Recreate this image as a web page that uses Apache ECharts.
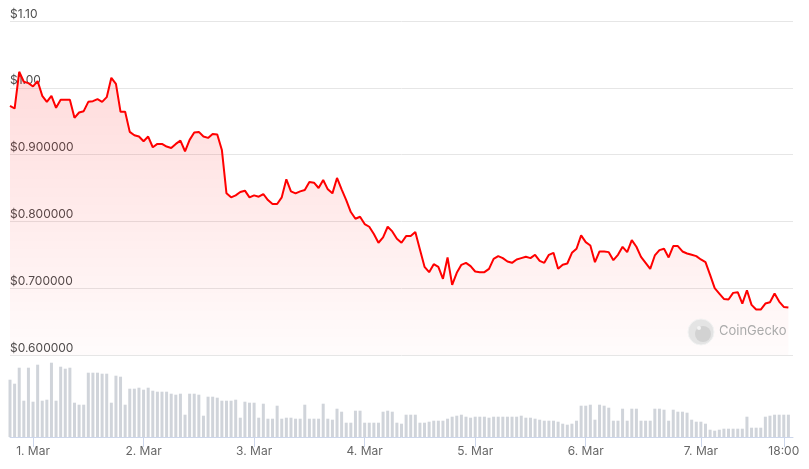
<!DOCTYPE html>
<html>
<head>
<meta charset="utf-8">
<title>Price chart</title>
<script src="https://cdn.jsdelivr.net/npm/echarts@6/dist/echarts.min.js"></script>
<style>
  html, body { margin: 0; padding: 0; background: #fff; }
  #chart { width: 809px; height: 469px; }
</style>
</head>
<body>
<div id="chart"></div>
<script>
// hourly points, hour 0 = 28 Feb 19:00
const prices = [
  0.973, 0.969, 1.024, 1.009, 1.007, 1.002, 1.010, 0.988, 0.979, 0.988,
  0.970, 0.982, 0.982, 0.982, 0.955, 0.963, 0.965, 0.979, 0.980, 0.983,
  0.979, 0.986, 1.015, 1.006, 0.964, 0.964, 0.934, 0.929, 0.927, 0.920,
  0.927, 0.911, 0.916, 0.916, 0.912, 0.910, 0.916, 0.921, 0.905, 0.922,
  0.933, 0.934, 0.927, 0.925, 0.931, 0.930, 0.907, 0.842, 0.836, 0.839,
  0.844, 0.846, 0.836, 0.839, 0.837, 0.841, 0.832, 0.826, 0.826, 0.836,
  0.863, 0.845, 0.842, 0.845, 0.847, 0.859, 0.858, 0.850, 0.862, 0.848,
  0.842, 0.865, 0.848, 0.832, 0.814, 0.804, 0.807, 0.796, 0.792, 0.781,
  0.768, 0.776, 0.792, 0.785, 0.774, 0.768, 0.778, 0.778, 0.784, 0.758,
  0.732, 0.724, 0.736, 0.732, 0.714, 0.746, 0.705, 0.723, 0.735, 0.738,
  0.733, 0.725, 0.724, 0.724, 0.729, 0.744, 0.748, 0.745, 0.740, 0.738,
  0.743, 0.745, 0.747, 0.745, 0.750, 0.741, 0.738, 0.750, 0.753, 0.729,
  0.735, 0.737, 0.753, 0.759, 0.779, 0.769, 0.764, 0.739, 0.755, 0.755,
  0.754, 0.742, 0.750, 0.762, 0.754, 0.772, 0.762, 0.747, 0.738, 0.729,
  0.749, 0.757, 0.759, 0.746, 0.763, 0.763, 0.755, 0.752, 0.750, 0.748,
  0.743, 0.739, 0.720, 0.700, 0.692, 0.684, 0.683, 0.693, 0.694, 0.677,
  0.697, 0.675, 0.668, 0.668, 0.677, 0.679, 0.692, 0.680, 0.672, 0.671
]

// volume, relative units
const volumes = [
  57.3, 53.3, 69.3, 36.3, 69.3, 35.3, 72.3, 36.3, 37.3, 74.3,
  36.3, 70.3, 68.3, 69.3, 34.3, 32.3, 32.3, 64.3, 64.3, 64.3,
  63.3, 63.3, 34.3, 61.3, 60.3, 32.3, 48.3, 48.3, 49.3, 47.3,
  49.3, 46.3, 45.3, 45.3, 45.3, 43.3, 42.3, 43.3, 22.3, 43.3,
  43.3, 42.3, 21.3, 40.3, 40.3, 39.3, 36.3, 36.3, 36.3, 37.3,
  19.3, 35.3, 34.3, 34.3, 19.3, 33.3, 18.3, 18.3, 31.3, 18.3,
  19.3, 19.3, 18.3, 18.3, 32.3, 18.3, 18.3, 18.3, 33.3, 18.3,
  17.3, 28.3, 25.3, 14.3, 14.3, 26.3, 26.3, 14.3, 14.3, 14.3,
  14.3, 25.3, 26.3, 25.3, 14.3, 13.3, 22.3, 22.3, 22.3, 14.3,
  14.3, 15.3, 16.3, 16.3, 16.3, 18.3, 20.3, 21.3, 22.3, 20.3,
  19.3, 20.3, 20.3, 20.3, 19.3, 20.3, 20.3, 20.3, 20.3, 20.3,
  20.3, 21.3, 19.3, 19.3, 18.3, 17.3, 16.3, 16.3, 16.3, 15.3,
  13.3, 12.3, 13.3, 16.3, 31.3, 31.3, 32.3, 17.3, 32.3, 31.3,
  29.3, 16.3, 16.3, 28.3, 16.3, 28.3, 28.3, 16.3, 16.3, 16.3,
  28.3, 28.3, 27.3, 16.3, 27.3, 25.3, 25.3, 24.3, 17.3, 15.3,
  15.3, 13.3, 7.3, 6.3, 7.3, 8.3, 8.3, 8.3, 8.3, 8.3,
  20.3, 9.3, 9.3, 9.3, 20.3, 21.3, 22.3, 22.3, 22.3, 22.3
]

const tickHours = [5, 29, 53, 77, 101, 125, 150, 168]
const tickLabels = ['1. Mar', '2. Mar', '3. Mar', '4. Mar', '5. Mar', '6. Mar', '7. Mar', '18:00']

const chart = echarts.init(document.getElementById('chart'))

const font = 'Inter, "Noto Sans", sans-serif'

const option = {
  animation: false,
  textStyle: { fontFamily: font },
  grid: [
    { left: 10, right: 16, top: 21, bottom: 114 },
    { left: 10, right: 16, top: 357, bottom: 32 }
  ],
  xAxis: [
    {
      type: 'value', gridIndex: 0, min: 0, max: 170,
      show: false
    },
    {
      type: 'value', gridIndex: 1, min: 0, max: 170,
      axisLine: { lineStyle: { color: '#ccd6eb' } },
      axisTick: { customValues: tickHours, length: 10, lineStyle: { color: '#ccd6eb' } },
      axisLabel: {
        customValues: tickHours,
        margin: 8,
        color: '#666',
        fontSize: 12,
        fontFamily: font,
        formatter: v => tickLabels[tickHours.indexOf(v)] || ''
      },
      splitLine: { show: false }
    }
  ],
  yAxis: [
    {
      type: 'value', gridIndex: 0, min: 0.6, max: 1.1, interval: 0.1,
      axisLine: { show: false },
      axisTick: { show: false },
      axisLabel: {
        inside: true,
        margin: 0,
        align: 'left',
        verticalAlign: 'bottom',
        padding: [0, 0, 1, 0],
        color: '#4d4d4d',
        fontSize: 12,
        fontFamily: font,
        formatter: v => v >= 1 ? '$' + v.toFixed(2) : '$' + v.toFixed(6)
      },
      splitLine: { lineStyle: { color: '#e6e6e6' } }
    },
    {
      type: 'value', gridIndex: 1, min: 0, max: 80,
      show: false
    }
  ],
  graphic: [
    {
      type: 'circle', shape: { cx: 701, cy: 332, r: 13 },
      style: { fill: '#e4e4e4', stroke: '#f2f2f2', lineWidth: 1 }, z: 10
    },
    {
      type: 'circle', shape: { cx: 703, cy: 334, r: 8 },
      style: { fill: '#d2d2d2' }, z: 11
    },
    {
      type: 'circle', shape: { cx: 699, cy: 328, r: 2 },
      style: { fill: '#f4f4f4' }, z: 12
    },
    {
      type: 'text', left: 719, top: 325,
      style: { text: 'CoinGecko', fill: '#ababab', font: '13px ' + font }, z: 10
    }
  ],
  series: [
    {
      name: 'Price',
      type: 'line',
      xAxisIndex: 0,
      yAxisIndex: 0,
      data: prices.map((p, i) => [i, p]),
      symbol: 'none',
      lineStyle: { color: '#ff0000', width: 2 },
      itemStyle: { color: '#ff0000' },
      areaStyle: {
        origin: 'start',
        color: new echarts.graphic.LinearGradient(0, 0, 0, 1, [
          { offset: 0, color: 'rgba(255, 0, 0, 0.2)' },
          { offset: 1, color: 'rgba(255, 0, 0, 0.02)' }
        ])
      }
    },
    {
      name: 'Volume',
      type: 'bar',
      xAxisIndex: 1,
      yAxisIndex: 1,
      data: volumes.map((v, i) => [i, v]),
      barWidth: 3,
      itemStyle: { color: '#d0d4da' }
    }
  ]
}

chart.setOption(option)
window.addEventListener('resize', () => chart.resize())
</script>
</body>
</html>
